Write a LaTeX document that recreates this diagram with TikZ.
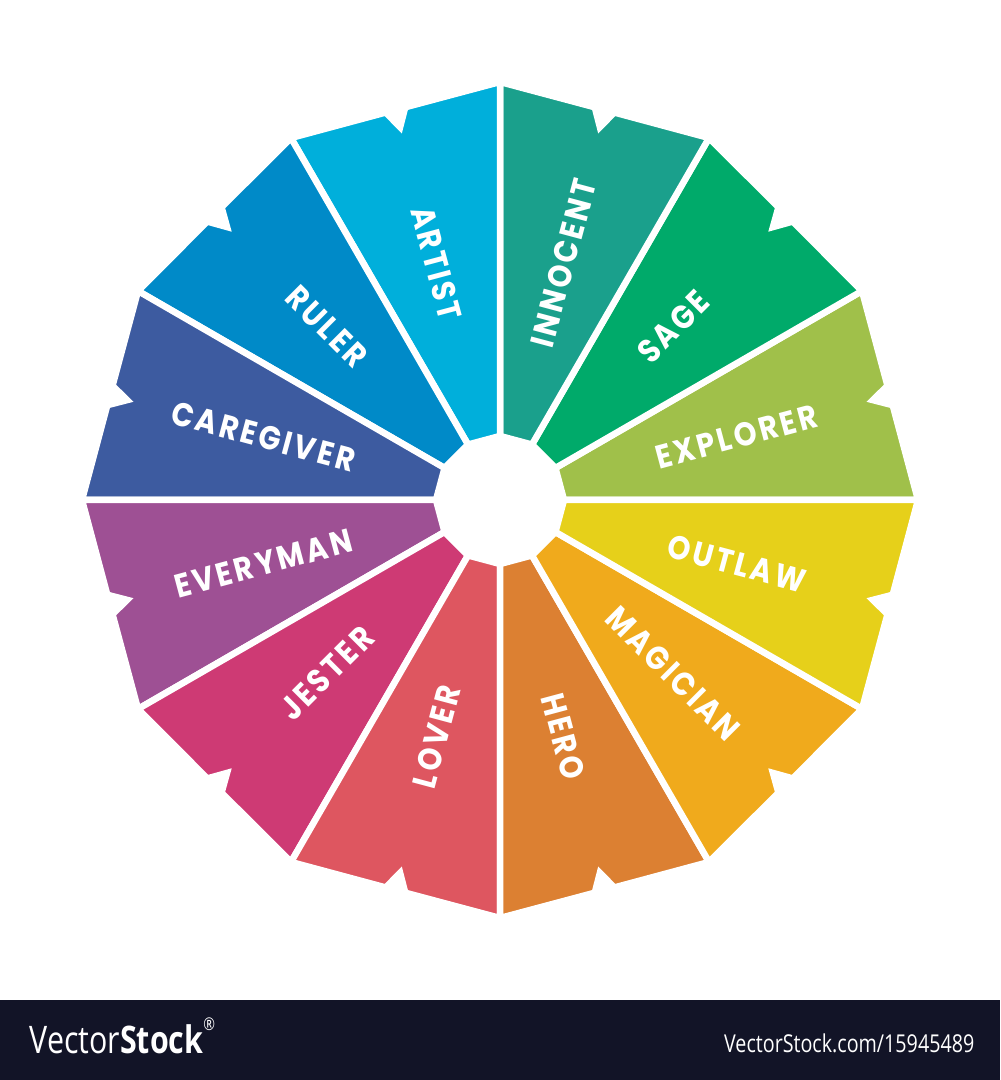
\documentclass[tikz,border=0pt]{standalone}
\usepackage{fontspec}
\usepackage{tikz}

\newfontfamily\labelfont[LetterSpace=9,FakeStretch=0.88]{Poppins}
\newfontfamily\footfont[FakeStretch=0.8]{Open Sans}

\definecolor{artistc}{HTML}{00AFDB}
\definecolor{innocentc}{HTML}{1AA08C}
\definecolor{sagec}{HTML}{00AA6A}
\definecolor{explorerc}{HTML}{A0C04A}
\definecolor{outlawc}{HTML}{E6D01A}
\definecolor{magicianc}{HTML}{F0AA1C}
\definecolor{heroc}{HTML}{DC8032}
\definecolor{loverc}{HTML}{DE5660}
\definecolor{jesterc}{HTML}{CE3A74}
\definecolor{everymanc}{HTML}{9E5094}
\definecolor{caregiverc}{HTML}{3D5BA0}
\definecolor{rulerc}{HTML}{008AC8}
\definecolor{footbg}{HTML}{121427}

\tikzset{
  wheelseg/.style={draw=white,line width=1.85pt,line join=miter},
  seglabel/.style={text=white,inner sep=0pt,
    font=\labelfont\bfseries\fontsize{9.4}{10}\selectfont},
  foottext/.style={text=white,inner sep=0pt},
}

% one wedge of the wheel: start angle, colour, node name, text
\newcommand\archseg[4]{%
  \pgfmathsetmacro\segmid{#1+15}%
  \pgfmathsetmacro\segrot{ifthenelse(and(#1>60,#1<250),\segmid-180,\segmid)}%
  \filldraw[wheelseg,fill=#2] (#1:64) -- (#1:418) -- (\segmid-1.43:404)
    -- (\segmid:386) -- (\segmid+1.43:404) -- (#1+30:418) -- (#1+30:64) -- cycle;
  \node[seglabel,rotate=\segrot] (#3) at (\segmid:245) {#4};
}

\begin{document}
\begin{tikzpicture}[x=0.01cm,y=0.01cm]
  \useasboundingbox (-500,-580) rectangle (500,500);
  \fill[white] (-500,-580) rectangle (500,500);

  \archseg{0}{explorerc}{explorer}{EXPLORER}
  \archseg{30}{sagec}{sage}{SAGE}
  \archseg{60}{innocentc}{innocent}{INNOCENT}
  \archseg{90}{artistc}{artist}{ARTIST}
  \archseg{120}{rulerc}{ruler}{RULER}
  \archseg{150}{caregiverc}{caregiver}{CAREGIVER}
  \archseg{180}{everymanc}{everyman}{EVERYMAN}
  \archseg{210}{jesterc}{jester}{JESTER}
  \archseg{240}{loverc}{lover}{LOVER}
  \archseg{270}{heroc}{hero}{HERO}
  \archseg{300}{magicianc}{magician}{MAGICIAN}
  \archseg{330}{outlawc}{outlaw}{OUTLAW}

  % footer band
  \fill[footbg] (-500,-580) rectangle (500,-500);
  \node[foottext,anchor=base west,font=\footfont\fontsize{10.8}{12}\selectfont]
    (brand) at (-471,-553) {Vector\textbf{Stock}\raisebox{1.1ex}{\fontsize{5}{5}\selectfont\textregistered}};
  \node[foottext,anchor=base east,font=\footfont\fontsize{7}{8}\selectfont]
    (stockid) at (475,-552) {VectorStock.com/15945489};
\end{tikzpicture}
\end{document}
